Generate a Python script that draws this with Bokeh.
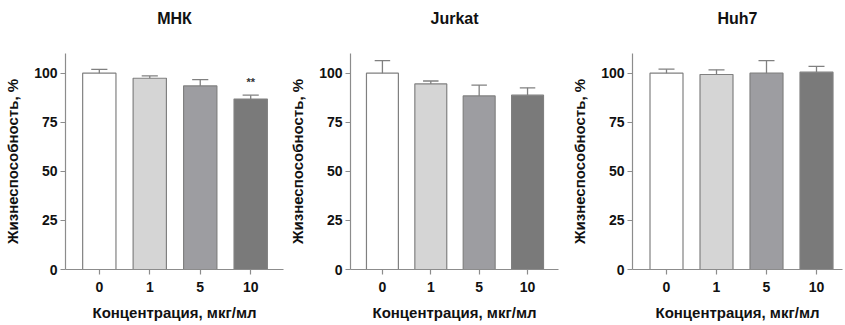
import numpy as np
from bokeh.plotting import figure
from bokeh.layouts import row
from bokeh.models import FixedTicker, Range1d, Title
from bokeh.core.properties import value
from bokeh.embed import file_html
from bokeh.resources import INLINE

# ---- data ----
conc_labels = ["0", "1", "5", "10"]
bar_colors = ["#ffffff", "#d5d5d5", "#9d9da1", "#7a7a7a"]

mnk_mean = [100.0, 97.4, 93.5, 86.8]
mnk_err = [1.9, 1.2, 3.2, 2.0]
mnk_sig = ["", "", "", "**"]

jurkat_mean = [100.0, 94.5, 88.4, 88.8]
jurkat_err = [6.4, 1.5, 5.5, 3.7]
jurkat_sig = ["", "", "", ""]

huh7_mean = [100.0, 99.3, 100.0, 100.5]
huh7_err = [2.0, 2.4, 6.4, 2.9]
huh7_sig = ["", "", "", ""]

y_ticks = [0, 25, 50, 75, 100]
y_label = "Жизнеспособность, %"
x_label = "Концентрация, мкг/мл"

FONT = "Liberation Sans"
AXIS_COLOR = "#8c8c8c"
EDGE_COLOR = "#808080"
HEIGHT = 325
TOP = 53
BOTTOM = 56


def panel(title, means, errs, sigs, width, left, right, xr):
    x = np.arange(len(conc_labels), dtype=float)
    means = np.array(means)
    upper = means + np.array(errs)
    p = figure(width=width, height=HEIGHT, output_backend="svg", toolbar_location=None,
               x_range=Range1d(*xr), y_range=Range1d(0, 110),
               min_border_left=left, min_border_right=right,
               min_border_top=TOP, min_border_bottom=BOTTOM)
    p.title.text = title
    p.title.align = "center"
    p.title.text_font = FONT
    p.title.text_font_size = "16px"
    p.title.text_font_style = "bold"
    p.title.text_color = "#111111"
    # invisible spacer between title and frame
    p.add_layout(Title(text=" ", text_font_size="9px"), "above")
    p.outline_line_color = None
    p.xgrid.grid_line_color = None
    p.ygrid.grid_line_color = None

    p.vbar(x=x, top=means, bottom=0, width=0.66, fill_color=bar_colors,
           line_color=EDGE_COLOR, line_width=1.2)
    p.segment(x0=x, y0=means, x1=x, y1=upper, line_color=EDGE_COLOR, line_width=1.3)
    p.segment(x0=x - 0.16, y0=upper, x1=x + 0.16, y1=upper, line_color=EDGE_COLOR, line_width=1.3)
    sx = [xi for xi, s in zip(x, sigs) if s]
    sy = [u + 3.5 for u, s in zip(upper, sigs) if s]
    st = [s for s in sigs if s]
    if st:
        p.text(x=sx, y=sy, text=st, text_align="center", text_baseline="bottom",
               text_font=value(FONT), text_font_size="11px", text_font_style="bold",
               text_color="#333333")

    p.xaxis.ticker = FixedTicker(ticks=list(range(len(conc_labels))))
    p.xaxis.major_label_overrides = {i: lab for i, lab in enumerate(conc_labels)}
    p.yaxis.ticker = FixedTicker(ticks=y_ticks)
    p.xaxis.axis_label = x_label
    p.yaxis.axis_label = y_label
    for ax in (p.xaxis, p.yaxis):
        ax.axis_line_color = AXIS_COLOR
        ax.axis_line_width = 1.2
        ax.major_tick_line_color = AXIS_COLOR
        ax.major_tick_line_width = 1.2
        ax.major_tick_in = 0
        ax.major_tick_out = 5
        ax.minor_tick_line_color = None
        ax.major_label_text_font = FONT
        ax.major_label_text_font_size = "14px"
        ax.major_label_text_font_style = "bold"
        ax.major_label_text_color = "#111111"
        ax.axis_label_text_font = FONT
        ax.axis_label_text_font_size = "15px"
        ax.axis_label_text_font_style = "bold"
        ax.axis_label_text_color = "#111111"
    p.yaxis.major_label_standoff = 3
    p.yaxis.axis_label_standoff = 10
    p.xaxis.major_label_standoff = 7
    p.xaxis.axis_label_standoff = 9
    return p


p1 = panel("МНК", mnk_mean, mnk_err, mnk_sig, 286, 65, 3, (-0.67, 3.65))
p2 = panel("Jurkat", jurkat_mean, jurkat_err, jurkat_sig, 276, 56, 4, (-0.66, 3.64))
p3 = panel("Huh7", huh7_mean, huh7_err, huh7_sig, 282, 70, 2, (-0.68, 3.52))

layout = row(p1, p2, p3)
open("out.html", "w").write(file_html(layout, INLINE))
